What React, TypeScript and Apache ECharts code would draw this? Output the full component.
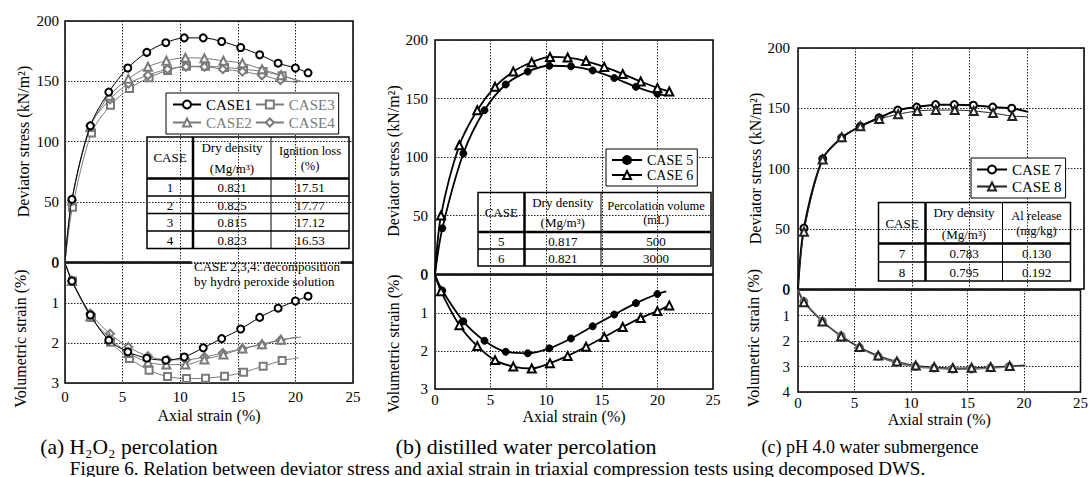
import React, { useEffect, useRef } from "react";
import * as echarts from "echarts";

const FONT = "Liberation Serif";

// ---------- Panel (a): H2O2 percolation ----------
const case1Strain = [0, 0.6, 2.2, 3.8, 5.45, 7.1, 8.75, 10.35, 12.0, 13.6, 15.25, 16.9, 18.5, 20.0, 21.1];
const case1Stress = [0, 52, 113, 141, 161, 174, 182, 186, 186, 183, 178, 172, 165, 161, 157];
const case1Vol = [0, 0.45, 1.3, 1.93, 2.22, 2.38, 2.43, 2.35, 2.12, 1.89, 1.65, 1.36, 1.13, 0.95, 0.83];

const case2Strain = [0, 0.6, 2.2, 3.85, 5.5, 7.2, 8.8, 10.45, 12.1, 13.75, 15.4, 17.1, 18.75, 20.5];
const case2Stress = [0, 51, 112, 138, 152, 162, 167, 169.5, 169, 167, 165, 160, 155, 150];
const case2Vol = [0, 0.45, 1.34, 1.87, 2.25, 2.48, 2.54, 2.54, 2.41, 2.29, 2.14, 2.03, 1.92, 1.85];

const case3Strain = [0, 0.65, 2.3, 3.95, 5.6, 7.3, 8.9, 10.55, 12.2, 13.85, 15.5, 17.2, 18.85, 20.3];
const case3Stress = [0, 45.5, 107, 130, 144, 153, 159, 162.5, 162.5, 161.5, 160, 158, 154.5, 150];
const case3Vol = [0, 0.45, 1.36, 1.98, 2.39, 2.68, 2.84, 2.89, 2.88, 2.83, 2.73, 2.58, 2.44, 2.37];

const case4Strain = [0, 0.6, 2.2, 3.9, 5.5, 7.2, 8.9, 10.5, 12.1, 13.7, 15.4, 17.1, 18.7, 20.2];
const case4Stress = [0, 51, 113, 135, 148, 155, 160, 162, 162, 160, 158, 155, 151, 149];
const case4Vol = [0, 0.45, 1.26, 1.77, 2.1, 2.33, 2.42, 2.42, 2.35, 2.25, 2.14, 2.04, 1.93, 1.85];

// ---------- Panel (b): distilled water percolation ----------
const case5Strain = [0, 0.66, 2.55, 4.45, 6.36, 8.34, 10.28, 12.23, 14.18, 16.12, 18.07, 20.0, 20.8];
const case5Stress = [0, 39, 103, 140, 162, 173, 178, 177.5, 174, 167.5, 160, 154, 152.5];
const case5Vol = [0, 0.41, 1.22, 1.73, 2.02, 2.06, 1.93, 1.67, 1.35, 1.04, 0.74, 0.5, 0.43];

const case6Strain = [0, 0.54, 2.19, 3.8, 5.4, 7.04, 8.7, 10.34, 11.93, 13.58, 15.22, 16.88, 18.5, 20.0, 21.07];
const case6Stress = [0, 50, 110, 140, 160, 173, 181, 185.5, 185, 182, 177, 171, 164.5, 159, 156];
const case6Vol = [0, 0.43, 1.32, 1.87, 2.24, 2.41, 2.46, 2.32, 2.13, 1.89, 1.63, 1.37, 1.13, 0.95, 0.8];

// ---------- Panel (c): pH 4.0 water submergence ----------
const case7Strain = [0, 0.52, 2.16, 3.82, 5.45, 7.08, 8.72, 10.38, 12.03, 13.66, 15.33, 17.02, 18.68, 20.13];
const case7Stress = [0, 50.5, 108, 125.5, 135, 142, 148.5, 151, 153, 153, 152.5, 151, 150, 147];
const case7Vol = [0, 0.45, 1.22, 1.8, 2.26, 2.6, 2.85, 3.0, 3.06, 3.1, 3.1, 3.05, 3.0, 2.95];

const case8Strain = [0, 0.52, 2.16, 3.82, 5.45, 7.1, 8.75, 10.42, 12.05, 13.7, 15.36, 17.05, 18.73, 20.1];
const case8Stress = [0, 47.5, 107.5, 126, 135, 141, 145, 147.7, 148.5, 148.5, 147.7, 146, 143.5, 143];
const case8Vol = [0, 0.48, 1.24, 1.82, 2.24, 2.57, 2.8, 2.96, 3.02, 3.06, 3.05, 3.02, 2.98, 2.96];

// ---------- Axis ticks ----------
const strainTicks = [0, 25, 5];
const stressTicks = [0, 200, 50];
const volMaxA = 3;
const volMaxB = 3;
const volMaxC = 4;

// ---------- Tables ----------
const tableAHeader = [["CASE"], ["Dry density", "(Mg/m³)"], ["Ignition loss", "(%)"]];
const tableACases = ["1", "2", "3", "4"];
const tableADensity = ["0.821", "0.825", "0.815", "0.823"];
const tableAIgnition = ["17.51", "17.77", "17.12", "16.53"];

const tableBHeader = [["CASE"], ["Dry density", "(Mg/m³)"], ["Percolation volume", "(mL)"]];
const tableBCases = ["5", "6"];
const tableBDensity = ["0.817", "0.821"];
const tableBVolume = ["500", "3000"];

const tableCHeader = [["CASE"], ["Dry density", "(Mg/m³)"], ["Al release", "(mg/kg)"]];
const tableCCases = ["7", "8"];
const tableCDensity = ["0.783", "0.795"];
const tableCAl = ["0.130", "0.192"];

const GRAY = "#7a7a7a";

function pts(xs: number[], ys: number[], lastMarked: boolean) {
  return xs.map((x, i) => {
    const noMark = i === 0 || (!lastMarked && i === xs.length - 1);
    return noMark ? { value: [x, ys[i]], symbol: "none" } : [x, ys[i]];
  });
}

function lineSeries(name: string, gi: number, data: any[], color: string, symbol: string, size: number, width: number, z = 2) {
  return {
    type: "line",
    name,
    xAxisIndex: gi,
    yAxisIndex: gi,
    data,
    smooth: 0.3,
    symbol,
    symbolSize: size,
    showSymbol: true,
    showAllSymbol: true,
    lineStyle: { color, width },
    itemStyle: { color, borderColor: color, borderWidth: 1 },
    emphasis: { disabled: true },
    z,
  };
}

const grids = [
  { left: 65, top: 21, width: 288, height: 241 },
  { left: 65, top: 263, width: 288, height: 120 },
  { left: 435, top: 40, width: 278, height: 234 },
  { left: 435, top: 275, width: 278, height: 114 },
  { left: 798, top: 48, width: 286, height: 241 },
  { left: 798, top: 290, width: 286, height: 102 },
];

const dotted = { show: true, lineStyle: { color: "#222", width: 1, type: [1.5, 1.5] } };

function tline(x1: number, y1: number, x2: number, y2: number, w: number) {
  return { type: "line", shape: { x1, y1, x2, y2 }, style: { stroke: "#000", lineWidth: w } };
}

function txt(x: number, y: number, text: string, size = 13, align = "center") {
  return {
    type: "text",
    x,
    y,
    style: { text, fill: "#000", fontSize: size, fontFamily: FONT, align, verticalAlign: "middle" },
  };
}

function buildTable(xs: number[], ys: number[], header: string[][], cols: string[][]) {
  const els: any[] = [];
  const x0 = xs[0], x3 = xs[3];
  const y0 = ys[0], yh = ys[1], yEnd = ys[ys.length - 1];
  els.push({ type: "rect", shape: { x: x0, y: y0, width: x3 - x0, height: yEnd - y0 }, style: { fill: "#fff", stroke: "#000", lineWidth: 1.5 } });
  els.push(tline(x0, yh, x3, yh, 2.5));
  for (let i = 2; i < ys.length - 1; i++) els.push(tline(x0, ys[i], x3, ys[i], 1.5));
  els.push(tline(xs[1], y0, xs[1], yEnd, 2.5));
  els.push(tline(xs[2], y0, xs[2], yEnd, 1));
  const hh = yh - y0;
  const rel = [[0.5], [0.25, 0.77], [0.33, 0.69]];
  const sizes = [13, 13, 12.5];
  header.forEach((lines, c) => {
    const cx = (xs[c] + xs[c + 1]) / 2;
    const r = lines.length === 1 ? [0.5] : rel[c];
    lines.forEach((t, k) => els.push(txt(cx, y0 + hh * r[k], t, sizes[c])));
  });
  cols.forEach((col, c) => {
    const cx = (xs[c] + xs[c + 1]) / 2;
    col.forEach((t, r) => els.push(txt(cx, (ys[r + 1] + ys[r + 2]) / 2 + 0.5, t)));
  });
  return els;
}

const labelMarginX = [6, 3.5, 3.5];
const nameGapX = [24.5, 19.5, 16.5];
const labelMarginY = [6, 7, 8];
const nameGapY = [34, 37, 32, 34, 35, 37];
const namePadY: any[] = [0, [0, 31, 0, 0], [0, 8, 0, 0], [0, 23, 0, 0], 0, [0, 0, 0, 6]];

const option: any = {
  animation: false,
  backgroundColor: "#fff",
  textStyle: { fontFamily: FONT },
  grid: grids.map((g) => ({ ...g, show: true, borderColor: "#000", borderWidth: 1.5, backgroundColor: "transparent", containLabel: false })),
  xAxis: grids.map((_, i) => ({
    type: "value",
    gridIndex: i,
    min: strainTicks[0],
    max: strainTicks[1],
    interval: strainTicks[2],
    axisLine: { show: false },
    axisTick: { show: false },
    axisLabel: { show: i % 2 === 1, margin: labelMarginX[Math.floor(i / 2)], fontSize: 15, color: "#000", fontFamily: FONT },
    splitLine: dotted,
    name: i % 2 === 1 ? "Axial strain (%)" : "",
    nameLocation: "middle",
    nameGap: nameGapX[Math.floor(i / 2)],
    nameTextStyle: { fontSize: 16, color: "#000", fontFamily: FONT },
  })),
  yAxis: grids.map((_, i) => {
    const top = i % 2 === 0;
    const p = Math.floor(i / 2);
    const vmax = [volMaxA, volMaxB, volMaxC][p];
    return {
      type: "value",
      gridIndex: i,
      min: top ? stressTicks[0] : 0,
      max: top ? stressTicks[1] : vmax,
      interval: top ? stressTicks[2] : 1,
      inverse: !top,
      axisLine: { show: false },
      axisTick: { show: false },
      axisLabel: { margin: labelMarginY[p], fontSize: 15, color: "#000", fontFamily: FONT },
      splitLine: dotted,
      name: top ? "Deviator stress (kN/m²)" : "Volumetric strain (%)",
      nameLocation: "middle",
      nameGap: nameGapY[i],
      nameTextStyle: { fontSize: 16, color: "#000", fontFamily: FONT, padding: namePadY[i] },
    };
  }),
  legend: [
    {
      left: 166,
      top: 93,
      width: 172,
      orient: "horizontal",
      itemWidth: 28,
      itemHeight: 10,
      itemGap: 3,
      padding: [4, 4, 4, 6],
      borderColor: "#000",
      borderWidth: 1,
      backgroundColor: "#fff",
      selectedMode: false,
      textStyle: { fontFamily: FONT, fontSize: 15, color: "#000" },
      data: [
        { name: "CASE1" },
        { name: "CASE3", textStyle: { color: GRAY } },
        { name: "CASE2", textStyle: { color: GRAY } },
        { name: "CASE4", textStyle: { color: GRAY } },
      ],
    },
    {
      left: 606,
      top: 149,
      orient: "vertical",
      itemWidth: 30,
      itemHeight: 10,
      itemGap: 1,
      padding: [4, 4, 4, 5],
      borderColor: "#000",
      borderWidth: 1,
      backgroundColor: "#fff",
      selectedMode: false,
      textStyle: { fontFamily: FONT, fontSize: 14, color: "#000" },
      data: ["CASE 5", "CASE 6"],
    },
    {
      left: 971,
      top: 158,
      orient: "vertical",
      itemWidth: 30,
      itemHeight: 10,
      itemGap: 2,
      padding: [4, 4, 4, 5],
      borderColor: "#000",
      borderWidth: 1,
      backgroundColor: "#fff",
      selectedMode: false,
      textStyle: { fontFamily: FONT, fontSize: 15, color: "#000" },
      data: ["CASE 7", "CASE 8"],
    },
  ],
  series: [
    lineSeries("CASE3", 0, pts(case3Strain, case3Stress, false), GRAY, "emptyRect", 7, 1),
    lineSeries("CASE4", 0, pts(case4Strain, case4Stress, false), GRAY, "emptyDiamond", 8, 1),
    lineSeries("CASE2", 0, pts(case2Strain, case2Stress, false), GRAY, "emptyTriangle", 8, 1),
    lineSeries("CASE1", 0, pts(case1Strain, case1Stress, true), "#000", "emptyCircle", 7, 1, 3),
    lineSeries("CASE3", 1, pts(case3Strain, case3Vol, false), GRAY, "emptyRect", 7, 1),
    lineSeries("CASE4", 1, pts(case4Strain, case4Vol, false), GRAY, "emptyDiamond", 8, 1),
    lineSeries("CASE2", 1, pts(case2Strain, case2Vol, false), GRAY, "emptyTriangle", 8, 1),
    lineSeries("CASE1", 1, pts(case1Strain, case1Vol, true), "#000", "emptyCircle", 7, 1, 3),
    lineSeries("CASE 5", 2, pts(case5Strain, case5Stress, false), "#000", "circle", 7, 1.8),
    lineSeries("CASE 6", 2, pts(case6Strain, case6Stress, true), "#000", "emptyTriangle", 8, 1.8),
    lineSeries("CASE 5", 3, pts(case5Strain, case5Vol, false), "#000", "circle", 7, 1.8),
    lineSeries("CASE 6", 3, pts(case6Strain, case6Vol, true), "#000", "emptyTriangle", 8, 1.8),
    lineSeries("CASE 7", 4, pts(case7Strain, case7Stress, false), "#000", "emptyCircle", 7, 2),
    lineSeries("CASE 8", 4, pts(case8Strain, case8Stress, false), "#222", "emptyTriangle", 8, 1),
    lineSeries("CASE 7", 5, pts(case7Strain, case7Vol, false), "#777", "emptyCircle", 7, 2),
    lineSeries("CASE 8", 5, pts(case8Strain, case8Vol, false), "#222", "emptyTriangle", 8, 1),
  ],
  graphic: {
    elements: [
      {
        type: "group",
        z: 100,
        children: [
          ...buildTable([147, 193, 271, 349], [137, 178.5, 196, 213.5, 231, 248.5], tableAHeader, [tableACases, tableADensity, tableAIgnition]),
          ...buildTable([478, 524.5, 601, 711], [192.5, 232, 249, 266], tableBHeader, [tableBCases, tableBDensity, tableBVolume]),
          ...buildTable([878.5, 925.5, 1002.5, 1070.5], [202.5, 243.5, 262, 281], tableCHeader, [tableCCases, tableCDensity, tableCAl]),
          { type: "rect", shape: { x: 191.5, y: 256, width: 149, height: 32 }, style: { fill: "#fff", lineWidth: 0 } },
          txt(194, 266, "CASE 2,3,4: decomposition", 13, "left"),
          txt(194, 281, "by hydro peroxide solution", 13, "left"),
          txt(129, 446.5, "(a) H₂O₂ percolation", 21.5),
          txt(526, 446.5, "(b) distilled water percolation", 22),
          txt(870, 446.5, "(c) pH 4.0 water submergence", 18),
          txt(497.5, 468, "Figure 6. Relation between deviator stress and axial strain in triaxial compression tests using decomposed DWS.", 19),
        ],
      },
    ],
  },
};

export default function App() {
  const ref = useRef<HTMLDivElement>(null);
  useEffect(() => {
    document.body.style.margin = "0";
    const chart = echarts.init(ref.current!, null, { renderer: "svg" });
    chart.setOption(option);
    return () => chart.dispose();
  }, []);
  return <div ref={ref} style={{ width: 1091, height: 477 }} />;
}
